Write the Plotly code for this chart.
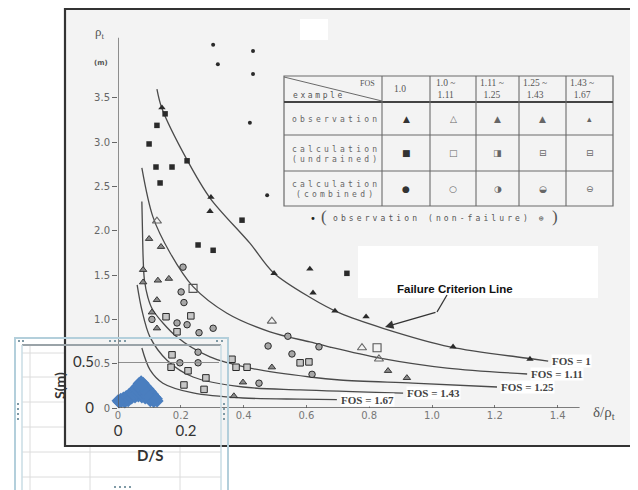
import plotly.graph_objects as go

# ---------------- data ----------------
x_tick_vals = [0, 0.2, 0.4, 0.6, 0.8, 1.0, 1.2, 1.4]
x_tick_text = ["0", "0.2", "0.4", "0.6", "0.8", "1.0", "1.2", "1.4"]
y_tick_vals = [0, 0.5, 1.0, 1.5, 2.0, 2.5, 3.0, 3.5]
y_tick_text = ["0", "0.5", "1.0", "1.5", "2.0", "2.5", "3.0", "3.5"]

fos_names = ["FOS = 1", "FOS = 1.11", "FOS = 1.25", "FOS = 1.43", "FOS = 1.67"]
fos_1_x = [0.124, 0.140, 0.220, 0.293, 0.420, 0.494, 0.611, 0.707, 0.844, 1.057, 1.322, 1.370]
fos_1_y = [3.60, 3.38, 2.80, 2.37, 1.86, 1.53, 1.25, 1.07, 0.90, 0.69, 0.553, 0.53]
fos_111_x = [0.076, 0.111, 0.166, 0.239, 0.347, 0.484, 0.611, 0.675, 0.834, 1.048, 1.303]
fos_111_y = [2.71, 2.16, 1.75, 1.37, 1.07, 0.86, 0.745, 0.688, 0.564, 0.451, 0.384]
fos_125_x = [0.076, 0.078, 0.080, 0.084, 0.095, 0.111, 0.188, 0.293, 0.420, 0.611, 0.707, 0.939, 1.207]
fos_125_y = [2.33, 2.00, 1.70, 1.45, 1.25, 1.106, 0.80, 0.576, 0.45, 0.35, 0.316, 0.28, 0.237]
fos_143_x = [0.061, 0.076, 0.102, 0.156, 0.239, 0.398, 0.580, 0.908]
fos_143_y = [1.39, 1.106, 0.80, 0.54, 0.35, 0.237, 0.205, 0.169]
fos_167_x = [0.076, 0.102, 0.143, 0.239, 0.398, 0.580, 0.697]
fos_167_y = [0.677, 0.43, 0.28, 0.17, 0.113, 0.10, 0.095]

# observation (non-failure)
nonfail_x = [0.303, 0.430, 0.318, 0.430, 0.420, 0.475]
nonfail_y = [4.10, 4.03, 3.88, 3.77, 3.22, 2.40]
# observation, FOS = 1.0
obs_fill_x = [0.140, 0.296, 0.293, 0.497, 0.611, 0.621, 0.691, 0.790, 1.067, 1.312]
obs_fill_y = [3.39, 2.38, 2.22, 1.52, 1.57, 1.30, 1.095, 1.03, 0.69, 0.553]
# observation, FOS 1.0 ~ 1.11
obs_open_x = [0.124, 0.490, 0.777, 0.831]
obs_open_y = [2.11, 0.98, 0.68, 0.553]
# observation, FOS 1.11 ~ 1.67
obs_part_x = [0.099, 0.137, 0.080, 0.080, 0.127, 0.162, 0.124, 0.108, 0.124, 0.490, 0.398, 0.369, 0.860, 0.920]
obs_part_y = [1.91, 1.82, 1.56, 1.42, 1.44, 1.46, 1.22, 1.08, 0.90, 0.46, 0.29, 0.135, 0.42, 0.34]
# calculation (undrained)
und_fill_x = [0.150, 0.124, 0.099, 0.121, 0.172, 0.134, 0.220, 0.395, 0.255, 0.303, 0.729]
und_fill_y = [3.32, 3.19, 2.98, 2.72, 2.72, 2.54, 2.79, 2.12, 1.84, 1.78, 1.52]
und_open_x = [0.239, 0.825]
und_open_y = [1.35, 0.68]
und_part_x = [0.153, 0.232, 0.188, 0.172, 0.169, 0.223, 0.280, 0.210, 0.274, 0.363, 0.376, 0.411, 0.580, 0.608]
und_part_y = [1.03, 1.04, 0.86, 0.60, 0.46, 0.42, 0.34, 0.26, 0.21, 0.55, 0.46, 0.46, 0.51, 0.52]
# calculation (combined)
com_x = [0.207, 0.201, 0.210, 0.108, 0.188, 0.220, 0.258, 0.303, 0.541, 0.640, 0.478, 0.554, 0.618, 0.449, 0.255, 0.197, 0.255]
com_y = [1.59, 1.31, 1.19, 1.00, 0.96, 0.94, 0.85, 0.90, 0.81, 0.69, 0.70, 0.61, 0.38, 0.28, 0.63, 0.51, 0.51]

# table legend texts
table_fos_ranges = ["1.0", "1.0 ~<br>1.11", "1.11 ~<br>1.25", "1.25 ~<br>1.43", "1.43 ~<br>1.67"]
table_rows = [["observation"], ["calculation", "(undrained)"], ["calculation", "(combined)"]]
table_symbols = [["▲", "△", "▲", "▲", "▴"],
                 ["■", "□", "◨", "⊟", "⊟"],
                 ["●", "○", "◑", "◒", "⊖"]]

# inset (Excel) chart
inset_x_ticks = [0, 0.2]
inset_x_text = ["0", "0.2"]
inset_y_ticks = [0, 0.5]
inset_y_text = ["0", "0.5"]
ds_x = [0.000, 0.008, 0.016, 0.024, 0.032, 0.040, 0.048, 0.056, 0.062, 0.068, 0.074,
        0.080, 0.088, 0.095, 0.102, 0.108, 0.113, 0.115, 0.105, 0.095,
        0.010, 0.020, 0.030, 0.085, 0.095, 0.105,
        0.040, 0.050, 0.060, 0.070, 0.080, 0.045, 0.055, 0.065, 0.075, 0.085,
        0.055, 0.065, 0.075, 0.060, 0.070, 0.003, 0.112]
s_y = [0.080, 0.095, 0.110, 0.125, 0.145, 0.170, 0.200, 0.235, 0.265, 0.285, 0.270,
       0.240, 0.210, 0.180, 0.150, 0.120, 0.100, 0.075, 0.070, 0.080,
       0.070, 0.065, 0.080, 0.120, 0.100, 0.095,
       0.110, 0.120, 0.130, 0.120, 0.110, 0.150, 0.160, 0.165, 0.155, 0.145,
       0.200, 0.210, 0.200, 0.240, 0.245, 0.065, 0.085]

# ---------------- geometry helpers (page pixels of the reference) ----------------
OFF = 8                      # browser body margin
W, H = 638 - OFF, 490 - OFF  # figure size so it fits exactly in the window
PL, PT, PR, PB = 118, 20, 630, 408   # plot area in page pixels
XSC, YSC = 314.0, 88.6


def PX(px):
    return (px - PL) / (PR - PL)


def PY(py):
    return (PB - py) / (PB - PT)


fig = go.Figure()

INK = "#2a2a2a"
CURVE = "#4a4a4a"

curves = [(fos_1_x, fos_1_y), (fos_111_x, fos_111_y), (fos_125_x, fos_125_y),
          (fos_143_x, fos_143_y), (fos_167_x, fos_167_y)]
for name, (cx, cy) in zip(fos_names, curves):
    fig.add_trace(go.Scatter(x=cx, y=cy, mode="lines", name=name,
                             line=dict(color=CURVE, width=1.3, shape="spline", smoothing=0.9),
                             cliponaxis=False, hoverinfo="skip"))

fig.add_trace(go.Scatter(x=nonfail_x, y=nonfail_y, mode="markers",
                         marker=dict(symbol="circle", size=4, color=INK), cliponaxis=False))
fig.add_trace(go.Scatter(x=obs_fill_x, y=obs_fill_y, mode="markers",
                         marker=dict(symbol="triangle-up", size=6.5, color=INK), cliponaxis=False))
fig.add_trace(go.Scatter(x=obs_open_x, y=obs_open_y, mode="markers",
                         marker=dict(symbol="triangle-up-open", size=8, color="#666",
                                     line=dict(width=1.1)), cliponaxis=False))
fig.add_trace(go.Scatter(x=obs_part_x, y=obs_part_y, mode="markers",
                         marker=dict(symbol="triangle-up", size=6.5, color="#8a8a8a",
                                     line=dict(color=INK, width=0.9)), cliponaxis=False))
fig.add_trace(go.Scatter(x=und_fill_x, y=und_fill_y, mode="markers",
                         marker=dict(symbol="square", size=5.5, color=INK), cliponaxis=False))
fig.add_trace(go.Scatter(x=und_open_x, y=und_open_y, mode="markers",
                         marker=dict(symbol="square-open", size=8, color="#555",
                                     line=dict(width=1.1)), cliponaxis=False))
fig.add_trace(go.Scatter(x=und_part_x, y=und_part_y, mode="markers",
                         marker=dict(symbol="square", size=6.5, color="#c6c6c6",
                                     line=dict(color=INK, width=1)), cliponaxis=False))
fig.add_trace(go.Scatter(x=com_x, y=com_y, mode="markers",
                         marker=dict(symbol="circle", size=6.5, color="#a6a6a6",
                                     line=dict(color=INK, width=1)), cliponaxis=False))

# inset blue cluster
fig.add_trace(go.Scatter(x=ds_x, y=s_y, mode="markers", xaxis="x2", yaxis="y2",
                         marker=dict(symbol="diamond", size=10, color="#4a7ebf"),
                         cliponaxis=False))

# ---------------- shapes ----------------
shapes = []
GRID = "#dcdcdc"
# spreadsheet cells behind the inset
for gy in [353, 377, 402, 427, 452, 477]:
    shapes.append(dict(type="line", xref="paper", yref="paper", x0=PX(22), x1=PX(221),
                       y0=PY(gy), y1=PY(gy), line=dict(color=GRID, width=1), layer="below"))
for gx in [30, 90, 180]:
    shapes.append(dict(type="line", xref="paper", yref="paper", x0=PX(gx), x1=PX(gx),
                       y0=PY(346), y1=PY(495), line=dict(color=GRID, width=1), layer="below"))
# scanned figure page
shapes.append(dict(type="rect", xref="paper", yref="paper", x0=PX(65), x1=PX(637),
                   y0=PY(446), y1=PY(9), fillcolor="#f3f3f3", line=dict(width=0), layer="below"))
# pasted white text boxes
shapes.append(dict(type="rect", xref="paper", yref="paper", x0=PX(358), x1=PX(598),
                   y0=PY(298), y1=PY(246), fillcolor="white", line=dict(width=0), layer="below"))
shapes.append(dict(type="rect", xref="paper", yref="paper", x0=PX(300), x1=PX(328),
                   y0=PY(40), y1=PY(19), fillcolor="white", line=dict(width=0), layer="below"))
shapes.append(dict(type="rect", xref="paper", yref="paper", x0=PX(65), x1=PX(637),
                   y0=PY(446), y1=PY(9), line=dict(color="#333", width=2.2), layer="below"))
# axes lines
shapes.append(dict(type="line", xref="x", yref="y", x0=0, x1=1.47, y0=0, y1=0,
                   line=dict(color="#555", width=1.3)))
shapes.append(dict(type="line", xref="x", yref="y", x0=0, x1=0, y0=0, y1=4.18,
                   line=dict(color="#555", width=1.3)))
# arrow first segment
shapes.append(dict(type="line", xref="paper", yref="paper", x0=PX(447), x1=PX(437),
                   y0=PY(295), y1=PY(312), line=dict(color="#333", width=1.3)))

# legend table
col_edges = [284, 382, 430, 476, 519, 566, 613]
row_edges = [76, 102, 135, 171, 206]
TB = "#6a6a6a"
shapes.append(dict(type="rect", xref="paper", yref="paper", x0=PX(col_edges[0]), x1=PX(col_edges[-1]),
                   y0=PY(row_edges[-1]), y1=PY(row_edges[0]), line=dict(color=TB, width=1.2)))
for i, ry in enumerate(row_edges[1:-1]):
    shapes.append(dict(type="line", xref="paper", yref="paper", x0=PX(col_edges[0]), x1=PX(col_edges[-1]),
                       y0=PY(ry), y1=PY(ry), line=dict(color="#444" if i == 0 else TB,
                                                       width=2 if i == 0 else 1.1)))
for cx in col_edges[1:-1]:
    shapes.append(dict(type="line", xref="paper", yref="paper", x0=PX(cx), x1=PX(cx),
                       y0=PY(row_edges[-1]), y1=PY(row_edges[0]), line=dict(color=TB, width=1.1)))
shapes.append(dict(type="line", xref="paper", yref="paper", x0=PX(284), x1=PX(382),
                   y0=PY(77), y1=PY(101), line=dict(color=TB, width=1)))

# inset frame (Excel chart object)
FR = "#b3cfdb"
shapes.append(dict(type="rect", xref="paper", yref="paper", x0=PX(15), x1=PX(228),
                   y0=PY(500), y1=PY(338), line=dict(color=FR, width=2), layer="above"))
shapes.append(dict(type="line", xref="paper", yref="paper", x0=PX(22), x1=PX(221),
                   y0=PY(345), y1=PY(345), line=dict(color="#9aa3a8", width=2), layer="above"))
for fx in [22, 221]:
    shapes.append(dict(type="line", xref="paper", yref="paper", x0=PX(fx), x1=PX(fx),
                       y0=PY(500), y1=PY(345), line=dict(color="#c8dce5", width=1.5), layer="above"))
handles = [(110, 341), (115, 341), (120, 341), (125, 341),
           (18, 404), (18, 409), (18, 414), (18, 419),
           (224, 404), (224, 409), (224, 414), (224, 419),
           (19, 341), (23, 341), (217, 341), (222, 341),
           (115, 487), (120, 487), (125, 487), (130, 487)]
for hx, hy in handles:
    shapes.append(dict(type="rect", xref="paper", yref="paper", x0=PX(hx - 1), x1=PX(hx + 1),
                       y0=PY(hy + 1), y1=PY(hy - 1), fillcolor="#7f9aa6", line=dict(width=0),
                       layer="above"))

# ---------------- annotations ----------------
ann = []
SERIF = "Liberation Serif"
MONO = "DejaVu Sans Mono"


def spaced(t, sp=3.2):
    return '<span style="letter-spacing:%spx">%s</span>' % (sp, t)


def pa(px, py, text, size=9, color="#555", family=MONO, xanchor="center", yanchor="middle", **kw):
    ann.append(dict(xref="paper", yref="paper", x=PX(px), y=PY(py), text=text, showarrow=False,
                    xanchor=xanchor, yanchor=yanchor, font=dict(size=size, color=color, family=family), **kw))


# axis labels of the scanned chart
pa(100, 32, "ρ<sub>t</sub>", size=13, color="#555", family=SERIF)
pa(101, 63, "<b>(m)</b>", size=7, color="#555", family="DejaVu Sans")
pa(604, 413, "δ/ρ<sub>t</sub>", size=15, color="#555", family=SERIF)

# FOS labels at curve ends
for name, (cx, cy) in zip(fos_names, curves):
    ann.append(dict(xref="x", yref="y", x=cx[-1], y=cy[-1], text="<b>%s</b>" % name, showarrow=False,
                    xanchor="left", yanchor="middle", xshift=3, bgcolor="white", borderpad=0,
                    font=dict(size=11, color="#444", family=SERIF)))

# failure criterion annotation
pa(455, 289, "<b>Failure Criterion Line</b>", size=11.5, color="#111", family="Liberation Sans")
ann.append(dict(xref="x", yref="y", x=(385 - PL) / XSC, y=(PB - 327) / YSC, text="",
                showarrow=True, ax=52, ay=-15, arrowhead=2, arrowsize=1.3, arrowwidth=1.3,
                arrowcolor="#333"))

# table text
pa(377, 84, "FOS", size=8, color="#555", family=SERIF, xanchor="right")
pa(291, 96, spaced("example", 2.6), size=8, xanchor="left")
offs = [10, 4, 2, 2, 2]
for i, t in enumerate(table_fos_ranges):
    pa(col_edges[i + 1] + offs[i], 89, t, size=9.5, color="#555", family=SERIF, xanchor="left")
row_mid = [(row_edges[k + 1] + row_edges[k + 2]) / 2 for k in range(3)]
for k, lines in enumerate(table_rows):
    txt = "<br>".join(spaced(s) for s in lines)
    pa(290, row_mid[k] + 1, txt, size=8, color="#666", xanchor="left")
    for i, sym in enumerate(table_symbols[k]):
        pa((col_edges[i + 1] + col_edges[i + 2]) / 2, row_mid[k], sym, size=9,
           color="#333" if i == 0 else "#666", family="DejaVu Sans")
pa(313, 219, "•", size=10, color="#222", family="DejaVu Sans")
pa(324, 216, "(", size=17, color="#555", family=SERIF)
pa(331, 218, spaced("observation (non-failure) ⊕", 3.1), size=8, color="#555", xanchor="left")
pa(555, 216, ")", size=17, color="#555", family=SERIF)

# inset titles
pa(59, 386, "<b>S(m)</b>", size=14, color="#333", family="Lato", textangle=-90)
pa(150, 455, "<b>D/S</b>", size=15, color="#333", family="Lato")

fig.update_layout(
    width=W, height=H,
    margin=dict(l=PL - OFF, r=W - (PR - OFF), t=PT - OFF, b=H - (PB - OFF), pad=0),
    template="none",
    paper_bgcolor="white",
    plot_bgcolor="rgba(0,0,0,0)",
    showlegend=False,
    font=dict(family="DejaVu Sans", color="#555"),
    xaxis=dict(range=[0, (PR - PL) / XSC], showgrid=False, zeroline=False, showline=False,
               tickmode="array", tickvals=x_tick_vals, ticktext=x_tick_text,
               ticks="inside", ticklen=3, tickcolor="#777",
               tickfont=dict(size=10, color="#777", family="DejaVu Sans"), automargin=False),
    yaxis=dict(range=[0, (PB - PT) / YSC], showgrid=False, zeroline=False, showline=False,
               tickmode="array", tickvals=y_tick_vals, ticktext=y_tick_text,
               ticks="outside", ticklen=5, tickcolor="#666",
               tickfont=dict(size=10, color="#666", family="DejaVu Sans"), automargin=False),
    xaxis2=dict(domain=[0, PX(219)], anchor="y2", range=[0, (219 - PL) / 340.0],
                showgrid=False, zeroline=False, showline=False,
                tickmode="array", tickvals=inset_x_ticks, ticktext=inset_x_text, ticks="",
                ticklabelstandoff=12,
                tickfont=dict(size=15, color="#333", family="Lato"), automargin=False),
    yaxis2=dict(domain=[0, PY(345)], anchor="x2", range=[0, (PB - 345) / 92.0],
                showgrid=True, gridcolor="#8e8e8e", gridwidth=1, zeroline=False, showline=False,
                tickmode="array", tickvals=inset_y_ticks, ticktext=inset_y_text, ticks="",
                ticklabelstandoff=23,
                tickfont=dict(size=15, color="#333", family="Lato"), automargin=False),
    shapes=shapes,
    annotations=ann,
)

fig.write_html("out.html")
